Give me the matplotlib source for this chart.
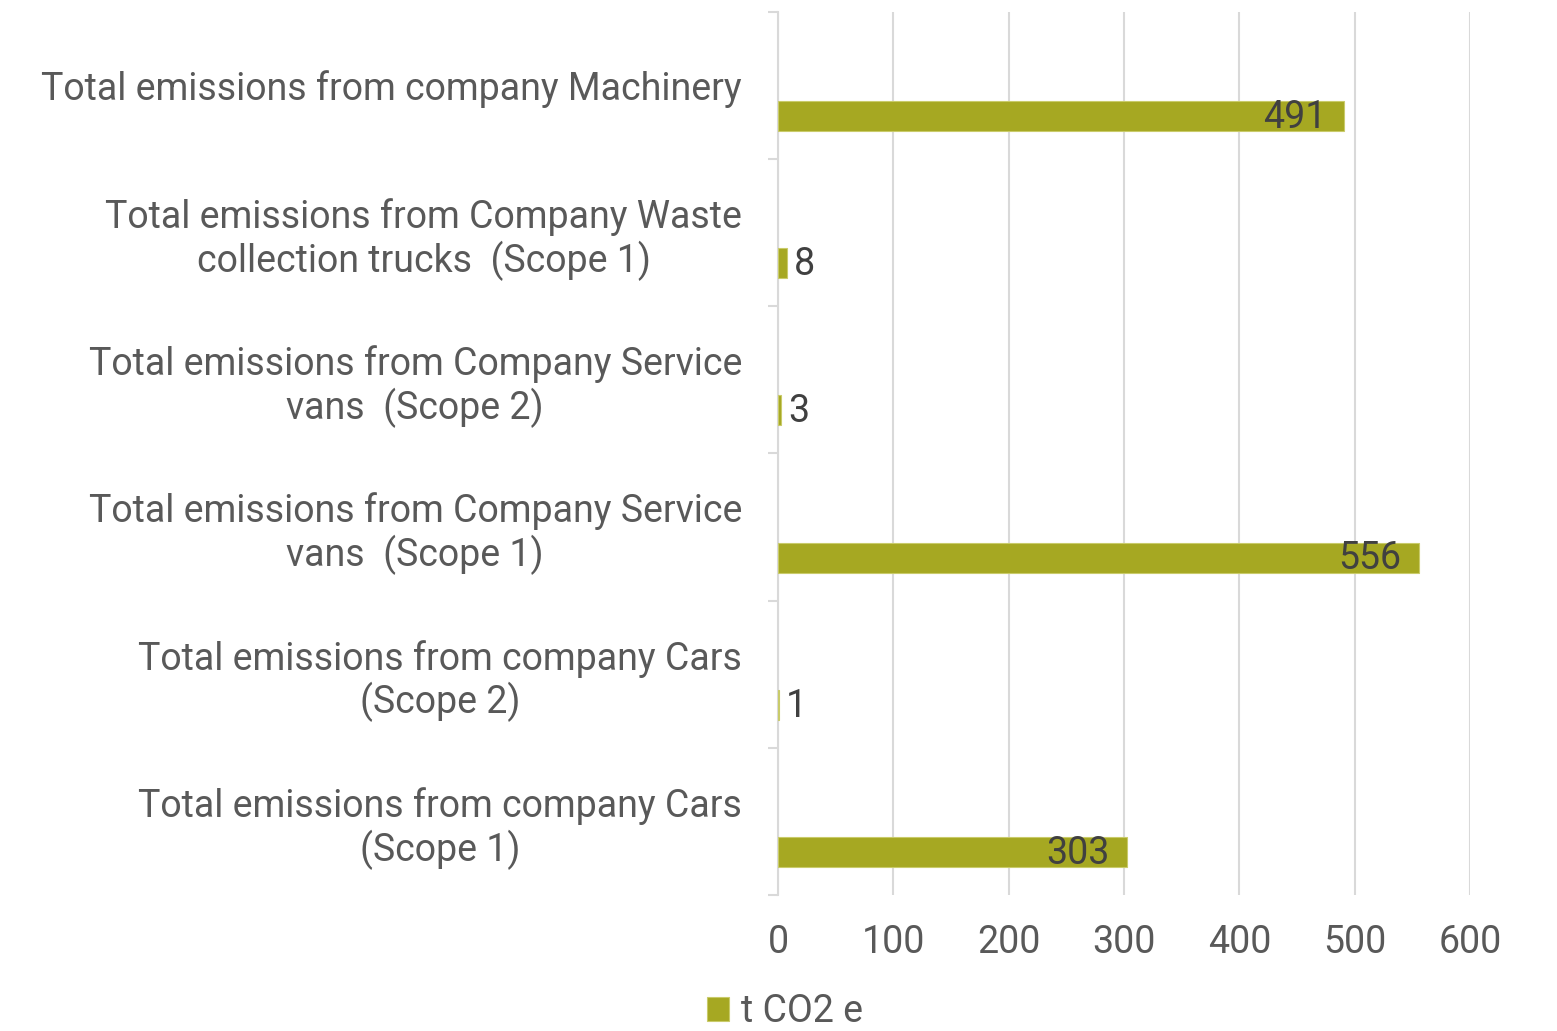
import matplotlib
matplotlib.use("Agg")
import matplotlib.pyplot as plt
from matplotlib.ticker import FixedLocator

plt.rcParams['font.family'] = ['Roboto', 'DejaVu Sans']

# categories top to bottom
categories = [
    "Total emissions from company Machinery",
    "Total emissions from Company Waste\ncollection trucks  (Scope 1)",
    "Total emissions from Company Service\nvans  (Scope 2)",
    "Total emissions from Company Service\nvans  (Scope 1)",
    "Total emissions from company Cars\n(Scope 2)",
    "Total emissions from company Cars\n(Scope 1)",
]
values = [491, 8, 3, 556, 1, 303]
series_name = "t CO2 e"
x_ticks = [0, 100, 200, 300, 400, 500, 600]

bar_color = "#A6A822"
grid_color = "#D9D9D9"
text_color = "#595959"
label_color = "#404040"
fs = 27

fig = plt.figure(figsize=(15.57, 10.31), dpi=100)
ax = fig.add_axes([0.4997, 0.1319, 0.9441 - 0.4997, 0.9884 - 0.1319])

pos = list(range(len(categories)))
bar_pos = [p + 0.207 for p in pos]
bars = ax.barh(bar_pos, values, height=0.204, color=bar_color,
               edgecolor="#C9CB6A", linewidth=0.8, label=series_name, zorder=3)

ax.set_xlim(0, 600)
ax.set_ylim(5.5, -0.5)
ax.set_xticks(x_ticks)
ax.set_yticks(pos)
ax.set_yticklabels(categories, ha="center", multialignment="center",
                   linespacing=1.15)
ax.yaxis.set_minor_locator(FixedLocator([p - 0.5 for p in pos] + [5.5]))

ax.grid(axis="x", color=grid_color, linewidth=1.5, zorder=0)
for s in ["top", "right", "bottom"]:
    ax.spines[s].set_visible(False)
ax.spines["left"].set_color(grid_color)
ax.spines["left"].set_linewidth(1.5)

ax.tick_params(axis="x", length=0, pad=21, labelsize=fs, labelcolor=text_color)
ax.tick_params(axis="y", which="major", length=0, pad=26, labelsize=fs,
               labelcolor=text_color)
ax.tick_params(axis="y", which="minor", length=7, width=1.5, color=grid_color)

# center-aligned multi-line labels whose right edge sits at the pad
fig.canvas.draw()
for lab in ax.get_yticklabels():
    lab.set_horizontalalignment("right")

for b, v in zip(bars, values):
    y = b.get_y() + b.get_height() / 2
    if v > 50:
        ax.annotate(str(v), (v, y), xytext=(-13, -1), textcoords="offset points",
                    ha="right", va="center", fontsize=fs, color=label_color)
    else:
        ax.annotate(str(v), (v, y), xytext=(5, -1), textcoords="offset points",
                    ha="left", va="center", fontsize=fs, color=label_color)

fig.legend(loc="center", bbox_to_anchor=(0.504, 0.019), frameon=False,
           fontsize=fs, labelcolor=text_color, handlelength=0.6,
           handleheight=0.6, handletextpad=0.3)

fig.savefig("out.png", dpi=100)
